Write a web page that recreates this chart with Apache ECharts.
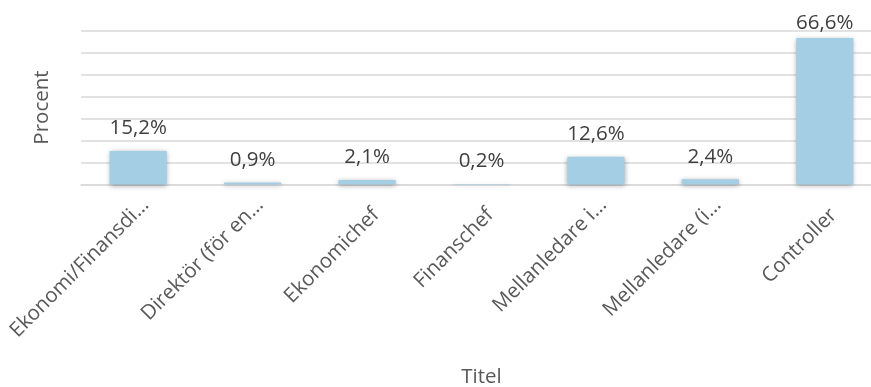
<!DOCTYPE html>
<html><head><meta charset="utf-8">
<script src="https://cdn.jsdelivr.net/npm/echarts@6/dist/echarts.min.js"></script>
<style>html,body{margin:0;padding:0;background:#fff}#c{width:871px;height:387px}</style>
</head><body><div id="c"></div>
<script>
const categories = ["Ekonomi/Finansdi…", "Direktör (för en…", "Ekonomichef", "Finanschef", "Mellanledare i…", "Mellanledare (i…", "Controller"];
const values = [15.2, 0.9, 2.1, 0.2, 12.6, 2.4, 66.6];
const yMin = 0, yMax = 70, yInterval = 10;

const maxVal = Math.max(...values);
const seriesData = values.map(v => v === maxVal ? { value: v, label: { distance: 4 } } : v);
const lblFont = { fontFamily: 'Open Sans', fontSize: 20.5, color: '#595959' };

const chart = echarts.init(document.getElementById('c'));
chart.setOption({
  animation: false,
  backgroundColor: '#ffffff',
  grid: { left: 81, width: 801, top: 30.5, bottom: 202.5, containLabel: false, outerBoundsMode: 'none' },
  xAxis: {
    type: 'category', data: categories,
    name: 'Titel', nameLocation: 'middle', nameGap: 182,
    nameTextStyle: { fontFamily: 'Open Sans', fontSize: 20.5, color: '#595959' },
    axisLine: { show: true, lineStyle: { color: '#d9d9d9', width: 1.5 } },
    axisTick: { show: false },
    axisLabel: Object.assign({ rotate: 45, interval: 0, margin: 10, verticalAlign: 'top',
      formatter: v => v.endsWith('…') ? '{t|' + v + '}' : '{n|' + v + '}',
      rich: { t: Object.assign({}, lblFont), n: Object.assign({ padding: [8, 6, 0, 0] }, lblFont) } }, lblFont)
  },
  yAxis: {
    type: 'value', min: yMin, max: yMax, interval: yInterval,
    name: 'Procent', nameLocation: 'middle', nameGap: 28, nameRotate: 90,
    nameTextStyle: { fontFamily: 'Open Sans', fontSize: 20.5, color: '#595959' },
    axisLabel: { show: false }, axisLine: { show: false }, axisTick: { show: false },
    splitLine: { lineStyle: { color: '#d9d9d9', width: 1.5 } }
  },
  series: [{
    type: 'bar', data: seriesData, barWidth: '50%',
    itemStyle: { color: '#a3cee4', shadowColor: 'rgba(0,0,0,0.35)', shadowBlur: 5, shadowOffsetX: 0, shadowOffsetY: 1 },
    label: { show: true, position: 'top', distance: 12, fontFamily: 'Open Sans', fontSize: 20.5, color: '#404040',
      formatter: p => p.value.toFixed(1).replace('.', ',') + '%' }
  }]
});
</script></body></html>
